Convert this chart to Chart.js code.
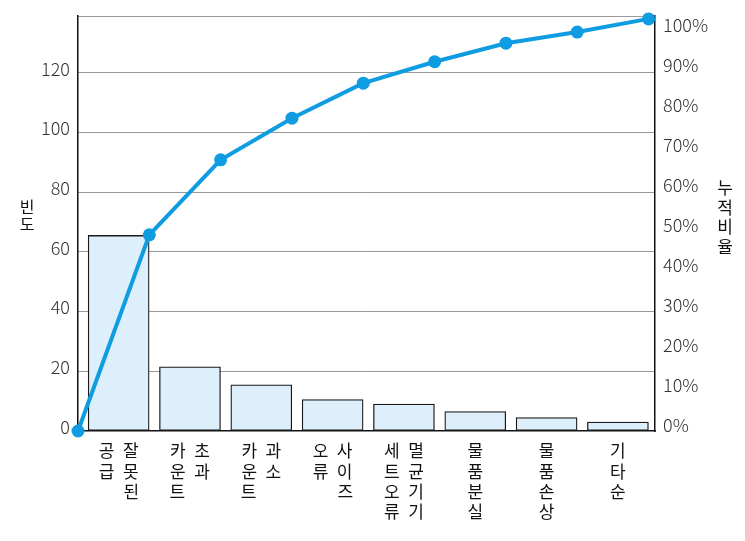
<!DOCTYPE html>
<html lang="ko">
<head>
<meta charset="utf-8">
<title>파레토 차트</title>
<script src="https://cdn.jsdelivr.net/npm/chart.js@4.4.1/dist/chart.umd.min.js"></script>
<style>
  html, body { margin: 0; padding: 0; background: #fff; }
  canvas { display: block; }
</style>
</head>
<body>
<canvas id="myChart" width="745" height="541"></canvas>
<script>
// 데이터
const categories = ['잘못된 공급', '초과 카운트', '과소 카운트', '사이즈 오류', '멸균기기 세트 오류', '물품 분실', '물품 손상', '기타순'];
const counts = [65.5, 21.5, 15.5, 10.5, 9, 6.5, 4.5, 3];
const cumulativePct = [0, 47.6, 65.8, 75.9, 84.4, 89.6, 94.1, 96.8, 100];
const countTicks = [0, 20, 40, 60, 80, 100, 120];
const pctTicks = [0, 10, 20, 30, 40, 50, 60, 70, 80, 90, 100];

// 세로쓰기 라벨 (오른쪽 열부터 읽음), \u2002 = 열 간격, \u3000 = 빈 칸
const tickLabels = [
    ['공\u2002잘', '급\u2002못', '\u3000\u2002된'],
    ['카\u2002초', '운\u2002과', '트\u2002\u3000'],
    ['카\u2002과', '운\u2002소', '트\u2002\u3000'],
    ['오\u2002사', '류\u2002이', '\u3000\u2002즈'],
    ['세\u2002멸', '트\u2002균', '오\u2002기', '류\u2002기'],
    ['물', '품', '분', '실'],
    ['물', '품', '손', '상'],
    ['기', '타', '순']
];

const COUNT_MAX = 139;
const PCT_AXIS_MAX = 103.75;
const LINE_MAX = 100.7;
const X_MAX = 8.09;
const BAR_POS = 0.57; // 막대 중심 (구간 오른쪽 끝에 맞춤)

const numFont = { family: '"Noto Sans CJK KR", "Noto Sans", sans-serif', size: 18, weight: 300 };
const korFont = { family: '"Noto Sans CJK KR", sans-serif', size: 17, lineHeight: 1.18 };

const axisTitles = {
    id: 'axisTitles',
    afterDraw(chart) {
        const ctx = chart.ctx;
        ctx.save();
        ctx.fillStyle = '#111';
        ctx.textAlign = 'center';
        ctx.textBaseline = 'middle';
        ctx.font = '16px "Noto Sans CJK KR"';
        [...'빈도'].forEach((ch, i) => ctx.fillText(ch, 27, 207 + i * 17));
        ctx.font = '17px "Noto Sans CJK KR"';
        [...'누적비율'].forEach((ch, i) => ctx.fillText(ch, 725, 188 + i * 19.5));
        ctx.restore();
    }
};

function noPad(scale) {
    scale.paddingTop = 0;
    scale.paddingBottom = 0;
    scale.paddingLeft = 0;
    scale.paddingRight = 0;
}

const ctx = document.getElementById('myChart').getContext('2d');
const myChart = new Chart(ctx, {
    type: 'bar',
    data: {
        datasets: [{
            type: 'line',
            label: '누적비율',
            data: cumulativePct.map((v, i) => ({ x: i, y: v })),
            xAxisID: 'x',
            yAxisID: 'yLine',
            borderColor: '#0f9ce0',
            backgroundColor: '#0f9ce0',
            borderWidth: 4,
            pointRadius: 6.5,
            pointBorderWidth: 0,
            pointBackgroundColor: '#0f9ce0',
            tension: 0,
            clip: false,
            order: 0
        }, {
            type: 'bar',
            label: '빈도',
            data: counts.map((v, i) => ({ x: i + BAR_POS, y: v })),
            xAxisID: 'x',
            yAxisID: 'y',
            backgroundColor: '#ddeffa',
            borderColor: '#1a1a1a',
            borderWidth: 1.3,
            borderSkipped: false,
            barThickness: 61,
            order: 1
        }]
    },
    options: {
        responsive: false,
        animation: false,
        devicePixelRatio: 1,
        layout: { padding: { top: 16, left: 0, right: 0, bottom: 0 } },
        plugins: {
            legend: { display: false },
            tooltip: { enabled: false }
        },
        scales: {
            x: {
                type: 'linear',
                position: 'bottom',
                offset: false,
                min: 0,
                max: X_MAX,
                grid: { display: false, drawTicks: false, offset: false },
                border: { display: true, color: '#111', width: 1.5 },
                afterBuildTicks: s => { s.ticks = categories.map((c, i) => ({ value: i + BAR_POS })); },
                ticks: {
                    autoSkip: false,
                    maxRotation: 0,
                    minRotation: 0,
                    padding: 10,
                    font: korFont,
                    color: '#111',
                    callback: (v, i) => tickLabels[i]
                },
                afterFit: s => { s.height = 110; noPad(s); }
            },
            y: {
                position: 'left',
                min: 0,
                max: COUNT_MAX,
                afterBuildTicks: s => { s.ticks = countTicks.map(v => ({ value: v })).concat([{ value: COUNT_MAX }]); },
                grid: {
                    drawTicks: false,
                    lineWidth: 1,
                    color: c => (c.tick && c.tick.value === 0) ? 'rgba(0,0,0,0)' : '#999'
                },
                border: { display: true, color: '#111', width: 1.5 },
                ticks: {
                    padding: 8,
                    labelOffset: -4,
                    font: numFont,
                    color: '#333',
                    callback: v => v > 120 ? '' : v
                },
                afterFit: s => { s.width = 78; noPad(s); }
            },
            y2: {
                position: 'right',
                min: 0,
                max: PCT_AXIS_MAX,
                afterBuildTicks: s => { s.ticks = pctTicks.map(v => ({ value: v })); },
                grid: { display: false, drawTicks: false },
                border: { display: true, color: '#111', width: 1.5 },
                ticks: {
                    padding: 8,
                    labelOffset: -6,
                    font: numFont,
                    color: '#333',
                    callback: v => v + '%'
                },
                afterFit: s => { s.width = 90; noPad(s); }
            },
            yLine: {
                display: false,
                min: 0,
                max: LINE_MAX
            }
        }
    },
    plugins: [axisTitles]
});
</script>
</body>
</html>
